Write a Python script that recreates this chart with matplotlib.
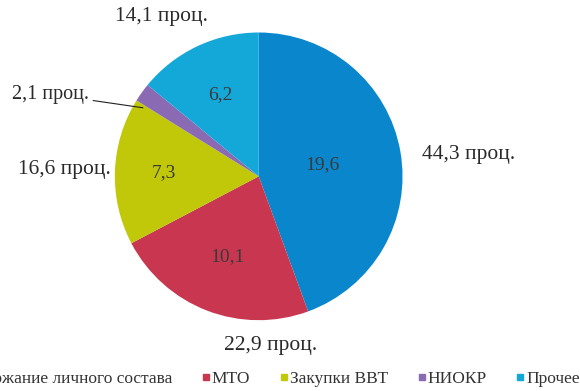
import numpy as np
import matplotlib.pyplot as plt
from matplotlib.lines import Line2D

plt.rcParams['font.family'] = ['Liberation Serif', 'DejaVu Serif']

categories = ['Содержание личного состава', 'МТО', 'Закупки ВВТ', 'НИОКР', 'Прочее']
values = [19.6, 10.1, 7.3, 0.93, 6.2]
value_labels = ['19,6', '10,1', '7,3', '', '6,2']
pct_labels = ['44,3 проц.', '22,9 проц.', '16,6 проц.', '2,1 проц.', '14,1 проц.']
colors = ['#0A86CC', '#C8374F', '#C1C80A', '#8B6AB4', '#13A8D8']

fig = plt.figure(figsize=(5.8, 3.91), dpi=100)
ax = fig.add_axes([0.198, 0.181, 0.496, 0.736])

wedges, _ = ax.pie(values, colors=colors, startangle=90, counterclock=False,
                   wedgeprops=dict(linewidth=0))
ax.set_xlim(-1, 1)
ax.set_ylim(-1, 1)
ax.set_aspect('equal')

# inner value labels
inner_r = [0.45, 0.6, 0.66, 0, 0.63]
# outer percent labels: radius and angle shift
outer_r = [1.47, 1.18, 1.35, 0, 1.3]
outer_shift = [-4, 25, 0, 0, 6]

for i, w in enumerate(wedges):
    mid = np.deg2rad((w.theta1 + w.theta2) / 2)
    if value_labels[i]:
        ax.text(inner_r[i] * np.cos(mid), inner_r[i] * np.sin(mid), value_labels[i],
                ha='center', va='center', fontsize=14, color='#3a3a3a')
    if outer_r[i]:
        a = mid + np.deg2rad(outer_shift[i])
        ax.text(outer_r[i] * np.cos(a), outer_r[i] * np.sin(a), pct_labels[i],
                ha='center', va='center', fontsize=15.5, color='#2a2a2a')

# small slice: label with leader line
w = wedges[3]
mid = np.deg2rad((w.theta1 + w.theta2) / 2)
ax.annotate(pct_labels[3], xy=(0.99 * np.cos(mid), 0.99 * np.sin(mid) - 0.1),
            xytext=(-1.18, 0.57), ha='right', va='center', fontsize=14.5, color='#2a2a2a',
            arrowprops=dict(arrowstyle='-', color='#222222', lw=0.8,
                            shrinkA=1, shrinkB=0))

handles = [Line2D([], [], marker='s', linestyle='', markersize=5,
                  markerfacecolor=c, markeredgecolor=c) for c in colors]
fig.legend(handles, categories, loc='center right', ncol=5, frameon=False,
           bbox_to_anchor=(1.027, 0.03), fontsize=12.5, handlelength=0.5,
           handletextpad=0.1, columnspacing=1.68, labelcolor='#333333')

fig.savefig('out.png', dpi=100)
